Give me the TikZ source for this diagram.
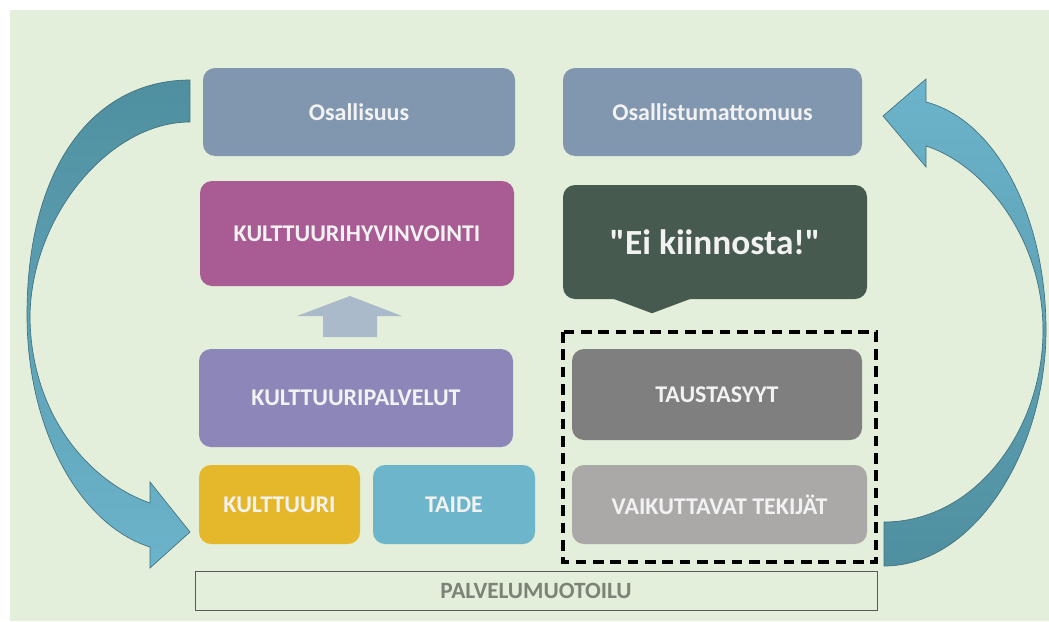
\documentclass[tikz,border=0pt]{standalone}
\usepackage{fontspec}
\setmainfont{Carlito}[Ligatures=TeXOff]
\usepackage{tikz}
\usetikzlibrary{positioning}
\definecolor{bgColor}{RGB}{227,239,218}
\definecolor{osaColor}{RGB}{129,150,175}
\definecolor{khvColor}{RGB}{168,92,147}
\definecolor{eikColor}{RGB}{70,90,79}
\definecolor{upColor}{RGB}{170,186,203}
\definecolor{kpaColor}{RGB}{141,135,185}
\definecolor{kulColor}{RGB}{229,184,43}
\definecolor{taiColor}{RGB}{109,181,202}
\definecolor{tauColor}{RGB}{127,127,127}
\definecolor{vaiColor}{RGB}{171,168,168}
\definecolor{palColor}{RGB}{123,131,120}
\definecolor{arrowDark}{RGB}{79,143,159}
\definecolor{arrowLight}{RGB}{108,180,203}
\definecolor{arrowEdge}{RGB}{65,112,127}
\tikzstyle{pixels} = [x = 0.75pt, y = -0.75pt]
\tikzstyle{boxStyle} = [rectangle, rounded corners = 9pt, inner sep = 0pt, text = white!95!black, font = \bfseries\fontsize{18}{22}\selectfont]
\tikzstyle{frameStyle} = [draw = black!65, line width = .7pt, inner sep = 0pt, text = palColor, font = \bfseries\fontsize{17.5}{21}\selectfont]
\tikzstyle{dashedFrame} = [draw = black, line width = 2.3pt, dash pattern = on 8pt off 5pt]
\tikzstyle{bendArrow} = [draw = arrowEdge, line width = .5pt]
\newcommand{\calloutFont}{\fontsize{26.5}{30}\selectfont}
% name, colour, left, top, right, bottom, text
\newcommand{\colorBox}[7]{\node [boxStyle, fill=#2, minimum width={(#5-#3)*0.75pt}, minimum height={(#6-#4)*0.75pt}] (#1) at ({(#3+#5)/2},{(#4+#6)/2}) {#7};}
\begin{document}
\begin{tikzpicture}[pixels]
  \useasboundingbox (0,0) rectangle (1049,621);
  \fill [bgColor] (10,10) rectangle (1049,621);

  % left column
  \colorBox{osa}{osaColor}{203}{68}{515}{156}{Osallisuus}
  \colorBox{khv}{khvColor}{200}{181}{514}{286}{KULTTUURIHYVINVOINTI}
  \colorBox{kpa}{kpaColor}{199}{349}{513}{447}{KULTTUURIPALVELUT}
  \colorBox{kul}{kulColor}{199}{465}{360}{544}{KULTTUURI}
  \colorBox{tai}{taiColor}{373}{465}{535}{544}{TAIDE}
  \fill [upColor] (323,337) -- (323,316) -- (297,316) -- (350,296) -- (402,316) -- (377,316) -- (377,337) -- cycle;

  % right column
  \colorBox{osm}{osaColor}{563}{68}{862}{156}{Osallistumattomuus}
  \colorBox{eik}{eikColor}{563}{185}{867}{299}{\calloutFont "Ei kiinnosta!"}
  \fill [eikColor] (eik.south) ++(-103,-1) -- ++(40,15) -- ++(40,-15) -- cycle;
  \colorBox{tau}{tauColor}{572}{349}{862}{440}{TAUSTASYYT}
  \colorBox{vai}{vaiColor}{572}{465}{867}{544}{VAIKUTTAVAT TEKIJÄT}
  \draw [dashedFrame] (563,332) rectangle (876,562);

  \node [frameStyle, minimum width = 682*0.75pt, minimum height = 39*0.75pt] (pal) at (536,590.5) {PALVELUMUOTOILU};

  % curved arrows
  \path [bendArrow, top color = arrowDark, bottom color = arrowLight]
    (190,80) .. controls (95,80) and (27,165) .. (27,315)
    .. controls (27,430) and (80,525) .. (150,547)
    -- (150,568) -- (190,532) -- (150,482) -- (150,503)
    .. controls (85,480) and (30,410) .. (30,315)
    .. controls (32,215) and (110,122) .. (190,122) -- cycle;
  \path [bendArrow, top color = arrowLight, bottom color = arrowDark]
    (884,566) .. controls (975,566) and (1046,450) .. (1046,330)
    .. controls (1046,215) and (995,120) .. (926,102)
    -- (926,79) -- (883,116) -- (926,167) -- (926,146)
    .. controls (985,165) and (1043,240) .. (1043,330)
    .. controls (1043,430) and (975,522) .. (884,522) -- cycle;
\end{tikzpicture}
\end{document}
